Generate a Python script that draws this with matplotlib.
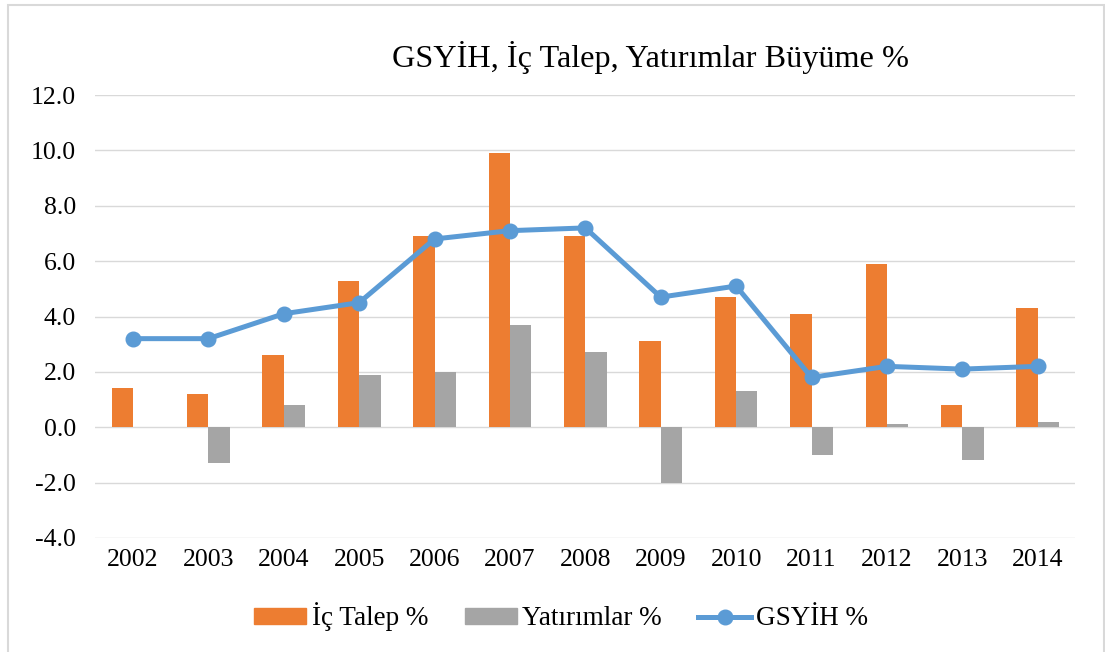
import matplotlib
matplotlib.use("Agg")
import matplotlib.pyplot as plt
import numpy as np
from matplotlib.patches import Rectangle
from matplotlib.lines import Line2D

plt.rcParams['font.family'] = ['Liberation Serif', 'DejaVu Serif']

years = ['2002', '2003', '2004', '2005', '2006', '2007', '2008',
         '2009', '2010', '2011', '2012', '2013', '2014']
ic_talep = [1.4, 1.2, 2.6, 5.3, 6.9, 9.9, 6.9, 3.1, 4.7, 4.1, 5.9, 0.8, 4.3]
yatirimlar = [0.0, -1.3, 0.8, 1.9, 2.0, 3.7, 2.7, -2.0, 1.3, -1.0, 0.1, -1.2, 0.2]
gsyih = [3.2, 3.2, 4.1, 4.5, 6.8, 7.1, 7.2, 4.7, 5.1, 1.8, 2.2, 2.1, 2.2]

W, H = 1105, 652
fig = plt.figure(figsize=(W / 100, H / 100), dpi=100)

# outer border
fig.patches.append(Rectangle((8 / W, -0.05), (1104 - 8) / W, (H - 5) / H + 0.05,
                             transform=fig.transFigure, fill=False,
                             edgecolor='#D9D9D9', linewidth=1.5))

ax = fig.add_axes([95.3 / W, (H - 538) / H, (1075.4 - 95.3) / W, (538 - 95) / H])

x = np.arange(len(years))
bw = 0.283
ax.bar(x - bw / 2, ic_talep, width=bw, color='#ED7D31', zorder=2, label='İç Talep %')
ax.bar(x + bw / 2, yatirimlar, width=bw, color='#A5A5A5', zorder=2, label='Yatırımlar %')
ax.plot(x, gsyih, color='#5B9BD5', linewidth=3.6, marker='o', markersize=10.5,
        zorder=3, label='GSYİH %')

ax.set_xlim(-0.5, len(years) - 0.5)
ax.set_ylim(-4, 12)
ax.set_yticks(np.arange(-4, 12.1, 2))
ax.set_yticklabels([f'{v:.1f}' for v in np.arange(-4, 12.1, 2)])
ax.set_xticks(x)
ax.set_xticklabels(years)
ax.tick_params(axis='both', length=0, labelsize=18.5, colors='black')
ax.tick_params(axis='y', pad=14)
ax.tick_params(axis='x', pad=8)
ax.grid(axis='y', color='#D9D9D9', linewidth=1.0, zorder=0)
ax.set_axisbelow(True)
for s in ax.spines.values():
    s.set_visible(False)

fig.text(650 / W, 1 - 57 / H, 'GSYİH, İç Talep, Yatırımlar Büyüme %',
         ha='center', va='center', fontsize=23.2)

handles = [Rectangle((0, 0), 1, 1, color='#ED7D31'),
           Rectangle((0, 0), 1, 1, color='#A5A5A5'),
           Line2D([0], [0], color='#5B9BD5', linewidth=3.6, marker='o', markersize=10.5)]
fig.legend(handles, ['İç Talep %', 'Yatırımlar %', 'GSYİH %'],
           loc='center', bbox_to_anchor=(561 / W, 1 - 617 / H), ncol=3,
           frameon=False, fontsize=19.5, handlelength=1.93, handletextpad=0.2,
           columnspacing=1.35, handleheight=0.55, borderpad=0.2)

fig.savefig('out.png', dpi=100)
